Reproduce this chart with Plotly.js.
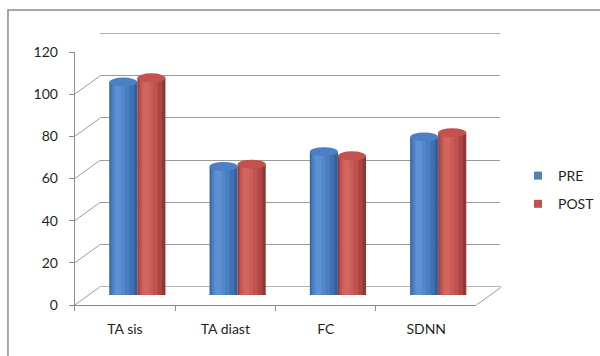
<!DOCTYPE html>
<html>
<head>
<meta charset="utf-8">
<script src="https://cdn.plot.ly/plotly-3.0.1.min.js"></script>
<style>html,body{margin:0;padding:0;background:#fff;}#chart{width:600px;height:356px;}</style>
</head>
<body>
<div id="chart"></div>
<script>
// ---- data ----
const categories = ['TA sis', 'TA diast', 'FC', 'SDNN'];
const preValues = [101, 61, 68, 75];
const postValues = [103, 62, 66, 77];
const seriesNames = ['PRE', 'POST'];
const yTickValues = [0, 20, 40, 60, 80, 100, 120];

// ---- styles ----
const W = 600, H = 356;
const FONT = 'Lato, "Open Sans", "Liberation Sans", sans-serif';
const gridColor = '#9c9c9c';
const axisColor = '#8c8c8c';
const textColor = '#1f1f1f';
const barW = 0.28;
const seriesStyle = [
  { offset: -barW, legend: '#4f81bd', top: '#4b80c4', bottom: '#3f70b2',
    layers: [[0, 1, '#34609c'], [0.03, 0.88, '#3f70b2'], [0.08, 0.72, '#4a7ec2'], [0.14, 0.55, '#5488cc'], [0.2, 0.42, '#5c91d4']] },
  { offset: 0, legend: '#c0504d', top: '#c3524f', bottom: '#ad4643',
    layers: [[0, 1, '#8e3836'], [0.03, 0.88, '#ad4643'], [0.08, 0.72, '#c0524f'], [0.14, 0.55, '#cb5c59'], [0.2, 0.42, '#d36561']] }
];
const seriesValues = [preValues, postValues];

const traces = [];
// invisible traces to build the front and back axes
traces.push({ type: 'scatter', x: categories, y: preValues, xaxis: 'x', yaxis: 'y', mode: 'markers',
  marker: { opacity: 0 }, showlegend: false, hoverinfo: 'skip' });
traces.push({ type: 'scatter', x: categories, y: preValues, xaxis: 'x2', yaxis: 'y2', mode: 'markers',
  marker: { opacity: 0 }, showlegend: false, hoverinfo: 'skip' });

// shaded cylinder bodies
seriesValues.forEach((vals, s) => {
  const st = seriesStyle[s];
  st.layers.forEach(([a, b, c]) => {
    traces.push({
      type: 'bar', x: categories, y: vals, xaxis: 'x3', yaxis: 'y3',
      offset: st.offset + a * barW, width: (b - a) * barW,
      marker: { color: c, line: { width: 0 } },
      showlegend: false, hoverinfo: 'skip', name: seriesNames[s]
    });
  });
});

// legend entries
seriesNames.forEach((n, s) => {
  traces.push({ type: 'scatter', x: [null], y: [null], xaxis: 'x3', yaxis: 'y3', mode: 'markers',
    name: n, legendgroup: n, marker: { symbol: 'square', size: 8, color: seriesStyle[s].legend }, hoverinfo: 'skip' });
});

const shapes = [];
// chart border
shapes.push({ type: 'rect', xref: 'paper', yref: 'paper', x0: 8 / W, x1: 1.05, y0: -0.1, y1: (H - 10) / H,
  line: { color: axisColor, width: 1.5 }, layer: 'below' });
// back wall top and floor back edges
[yTickValues[0], yTickValues[yTickValues.length - 1]].forEach(v => {
  shapes.push({ type: 'line', xref: 'paper', yref: 'y2', x0: 100 / W, x1: 502 / W, y0: v, y1: v,
    line: { color: gridColor, width: 1.3 }, layer: 'below' });
});
// side wall diagonals
yTickValues.forEach(v => {
  shapes.push({ type: 'line', xref: 'paper', yref: 'y', xsizemode: 'pixel', xanchor: 75 / W, x0: 0, x1: 25,
    ysizemode: 'pixel', yanchor: v, y0: 0, y1: 18, line: { color: gridColor, width: 1 } });
});
// floor right edge
shapes.push({ type: 'line', xref: 'paper', yref: 'y', xsizemode: 'pixel', xanchor: 478 / W, x0: 0, x1: 25,
  ysizemode: 'pixel', yanchor: 0, y0: 0, y1: 18, line: { color: gridColor, width: 1 } });
// cylinder caps
seriesValues.forEach((vals, s) => {
  const st = seriesStyle[s];
  vals.forEach((v, i) => {
    const cx = i + st.offset + barW / 2;
    shapes.push({ type: 'circle', xref: 'x3', yref: 'y3', xsizemode: 'pixel', ysizemode: 'pixel',
      xanchor: cx, yanchor: 0, x0: -14, x1: 14, y0: -4.5, y1: 4.5,
      fillcolor: st.bottom, line: { width: 0 }, layer: 'below' });
    shapes.push({ type: 'circle', xref: 'x3', yref: 'y3', xsizemode: 'pixel', ysizemode: 'pixel',
      xanchor: cx, yanchor: v, x0: -14, x1: 14, y0: -4.5, y1: 4.5,
      fillcolor: st.top, line: { width: 0 }, layer: 'above' });
  });
});

const tickFont = { family: FONT, size: 14, color: textColor };
const layout = {
  width: W, height: H,
  margin: { l: 0, r: 0, t: 0, b: 0 },
  paper_bgcolor: '#ffffff', plot_bgcolor: 'rgba(0,0,0,0)',
  font: { family: FONT, color: textColor },
  barmode: 'overlay',
  hovermode: false,
  showlegend: true,
  legend: { x: 520 / W, y: (H - 160) / H, xanchor: 'left', yanchor: 'top', font: { family: FONT, size: 14, color: textColor },
    bgcolor: 'rgba(0,0,0,0)', traceorder: 'grouped', tracegroupgap: 7 },
  xaxis: { domain: [75 / W, 478 / W], type: 'category', categoryorder: 'array', categoryarray: categories,
    range: [-0.5, 3.5], tickson: 'boundaries', ticks: 'outside', ticklen: 5, tickcolor: axisColor,
    showline: true, linecolor: axisColor, linewidth: 1, showgrid: false, zeroline: false,
    tickfont: tickFont, ticklabelstandoff: 11, anchor: 'y', fixedrange: true },
  yaxis: { domain: [51 / H, 304 / H], range: [0, 120], tickvals: yTickValues, ticks: 'outside', ticklen: 5,
    tickcolor: axisColor, showline: true, linecolor: axisColor, linewidth: 1, showgrid: false, zeroline: false,
    tickfont: tickFont, ticklabelstandoff: 8, anchor: 'x', fixedrange: true },
  xaxis2: { domain: [100 / W, 502 / W], type: 'category', categoryorder: 'array', categoryarray: categories,
    range: [-0.5, 3.5], showgrid: false, showticklabels: false, ticks: '', showline: false, zeroline: false,
    anchor: 'y2', fixedrange: true },
  yaxis2: { domain: [69 / H, 323 / H], range: [0, 120], tickvals: yTickValues, showgrid: true, gridcolor: gridColor,
    gridwidth: 1, showticklabels: false, ticks: '', zeroline: false, showline: false, anchor: 'x2', fixedrange: true },
  xaxis3: { domain: [87.5 / W, 490 / W], type: 'category', categoryorder: 'array', categoryarray: categories,
    range: [-0.5, 3.5], visible: false, anchor: 'y3', fixedrange: true },
  yaxis3: { domain: [61 / H, 314 / H], range: [0, 120], visible: false, anchor: 'x3', fixedrange: true },
  shapes: shapes
};

Plotly.newPlot('chart', traces, layout, { staticPlot: true, displayModeBar: false });
</script>
</body>
</html>
